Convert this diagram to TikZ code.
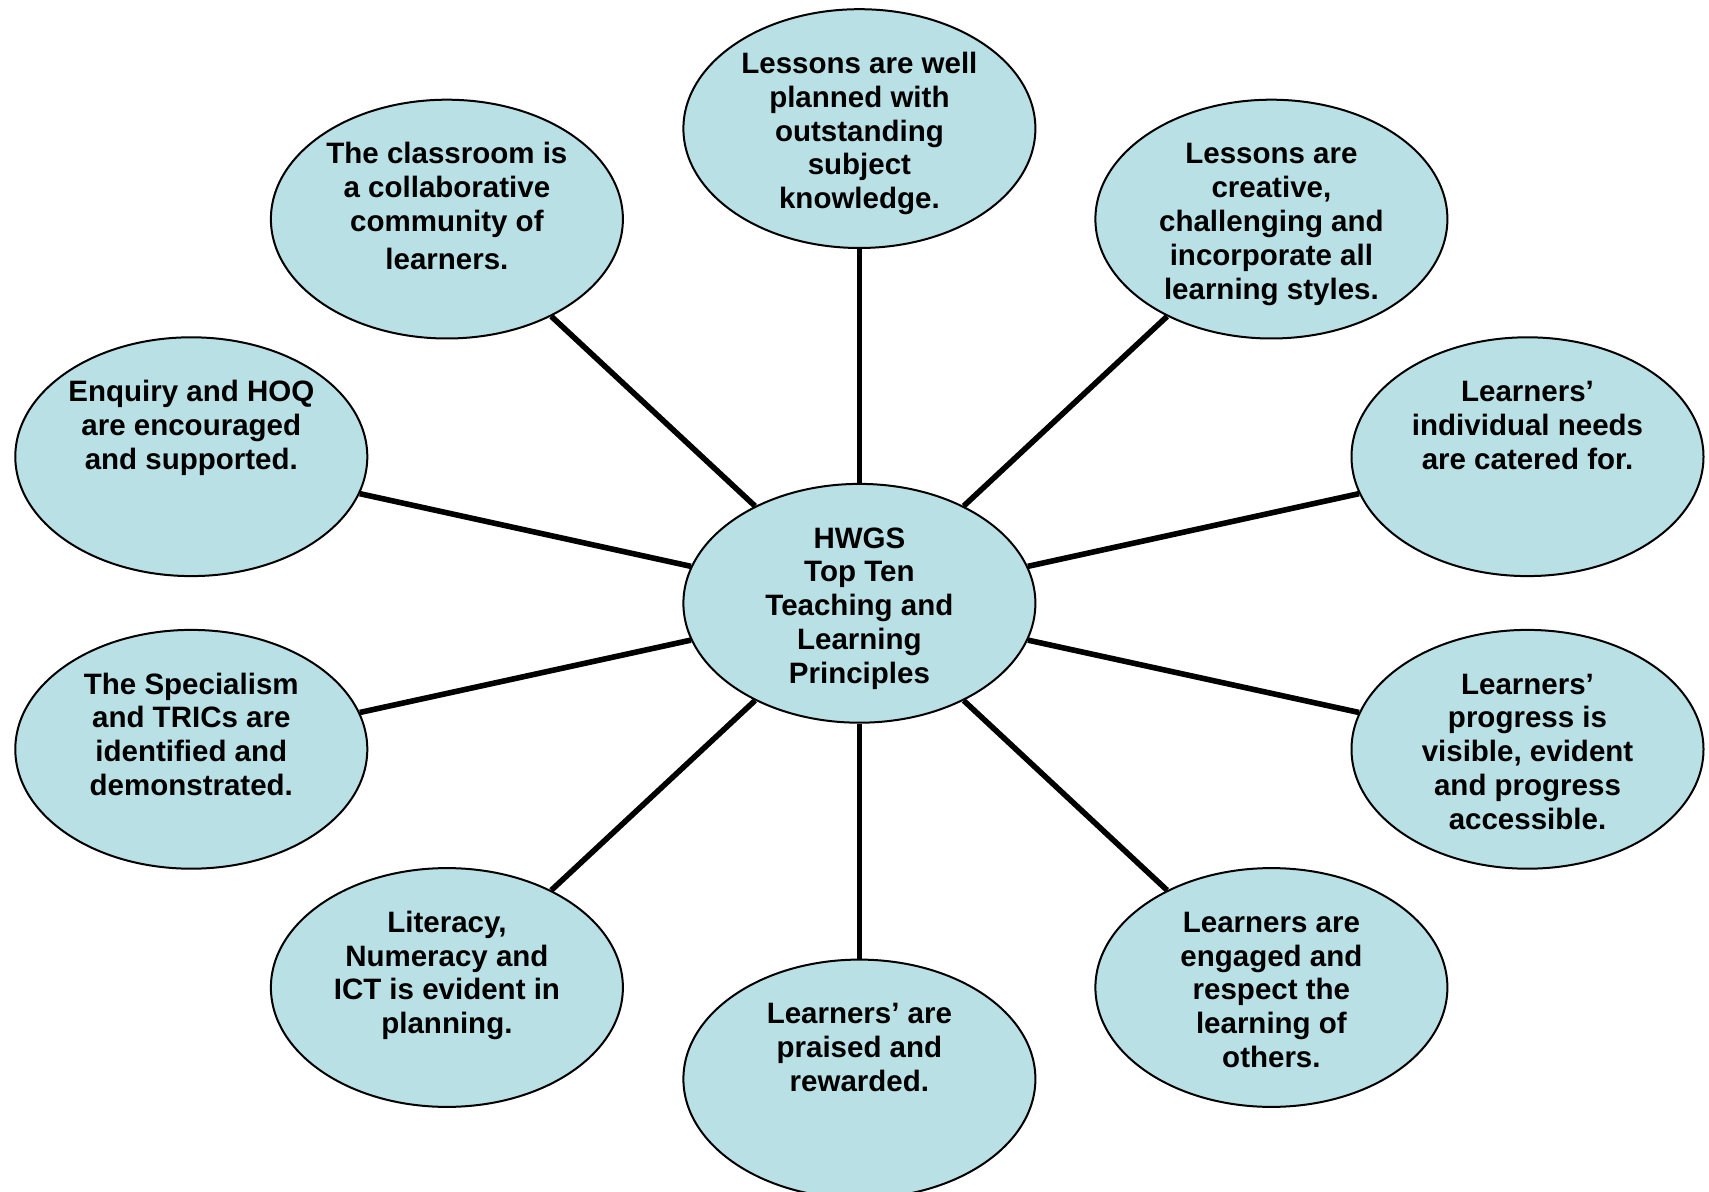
\documentclass[tikz,border=0pt]{standalone}
\usepackage{fontspec}
\setmainfont{Liberation Sans}
\usetikzlibrary{shapes.geometric}
\definecolor{bubblefill}{RGB}{185,224,228}
\begin{document}
\begin{tikzpicture}[x=0.5pt,y=-0.5pt,
  bubble/.style={ellipse,draw=black,line width=1pt,fill=bubblefill,
    minimum width=176pt,minimum height=119.4pt,inner sep=0pt},
  txt/.style={anchor=north,align=center,inner sep=0pt,
    font=\bfseries\fontsize{14.75}{16.9}\selectfont},
  link/.style={line width=2.8pt}]
\useasboundingbox (0,0) rectangle (1709,1192);
% bubbles
\node[bubble] (hub) at (859.4,603.3) {};
\node[bubble] (n1)  at (859.4,128.6) {};
\node[bubble] (n2)  at (1271.4,219.1) {};
\node[bubble] (n3)  at (1527.5,456.7) {};
\node[bubble] (n4)  at (1527.5,749.3) {};
\node[bubble] (n5)  at (1271.4,987.5) {};
\node[bubble] (n6)  at (859.4,1079) {};
\node[bubble] (n7)  at (446.9,987.5) {};
\node[bubble] (n8)  at (191.3,749.3) {};
\node[bubble] (n9)  at (191.3,456.7) {};
\node[bubble] (n10) at (446.9,219.1) {};
% connectors
\foreach \n in {n1,n2,n3,n4,n5,n6,n7,n8,n9,n10}
  \draw[link] (hub) -- (\n);
% texts
\tikzset{tshift/.style={yshift=-20.6pt}}
\node[txt] (thub) at ([tshift]hub.north) {\strut HWGS\\Top Ten\\Teaching and\\Learning\\Principles};
\node[txt] (t1) at ([tshift]n1.north) {\strut Lessons are well\\planned with\\outstanding\\subject\\knowledge.};
\node[txt] (t2) at ([tshift]n2.north) {\strut Lessons are\\creative,\\challenging and\\incorporate all\\learning styles.};
\node[txt] (t3) at ([tshift]n3.north) {\strut Learners’\\individual needs\\are catered for.};
\node[txt] (t4) at ([tshift]n4.north) {\strut Learners’\\progress is\\visible, evident\\and progress\\accessible.};
\node[txt] (t5) at ([tshift]n5.north) {\strut Learners are\\engaged and\\respect the\\learning of\\others.};
\node[txt] (t6) at ([tshift]n6.north) {\strut Learners’ are\\praised and\\rewarded.};
\node[txt] (t7) at ([tshift]n7.north) {\strut Literacy,\\Numeracy and\\ICT is evident in\\planning.};
\node[txt] (t8) at ([tshift]n8.north) {\strut The Specialism\\and TRICs are\\identified and\\demonstrated.};
\node[txt] (t9) at ([tshift]n9.north) {\strut Enquiry and HOQ\\are encouraged\\and supported.};
\node[txt] (t10) at ([tshift]n10.north) {\strut The classroom is\\a collaborative\\community of\\[2pt]learners.};
\end{tikzpicture}
\end{document}
